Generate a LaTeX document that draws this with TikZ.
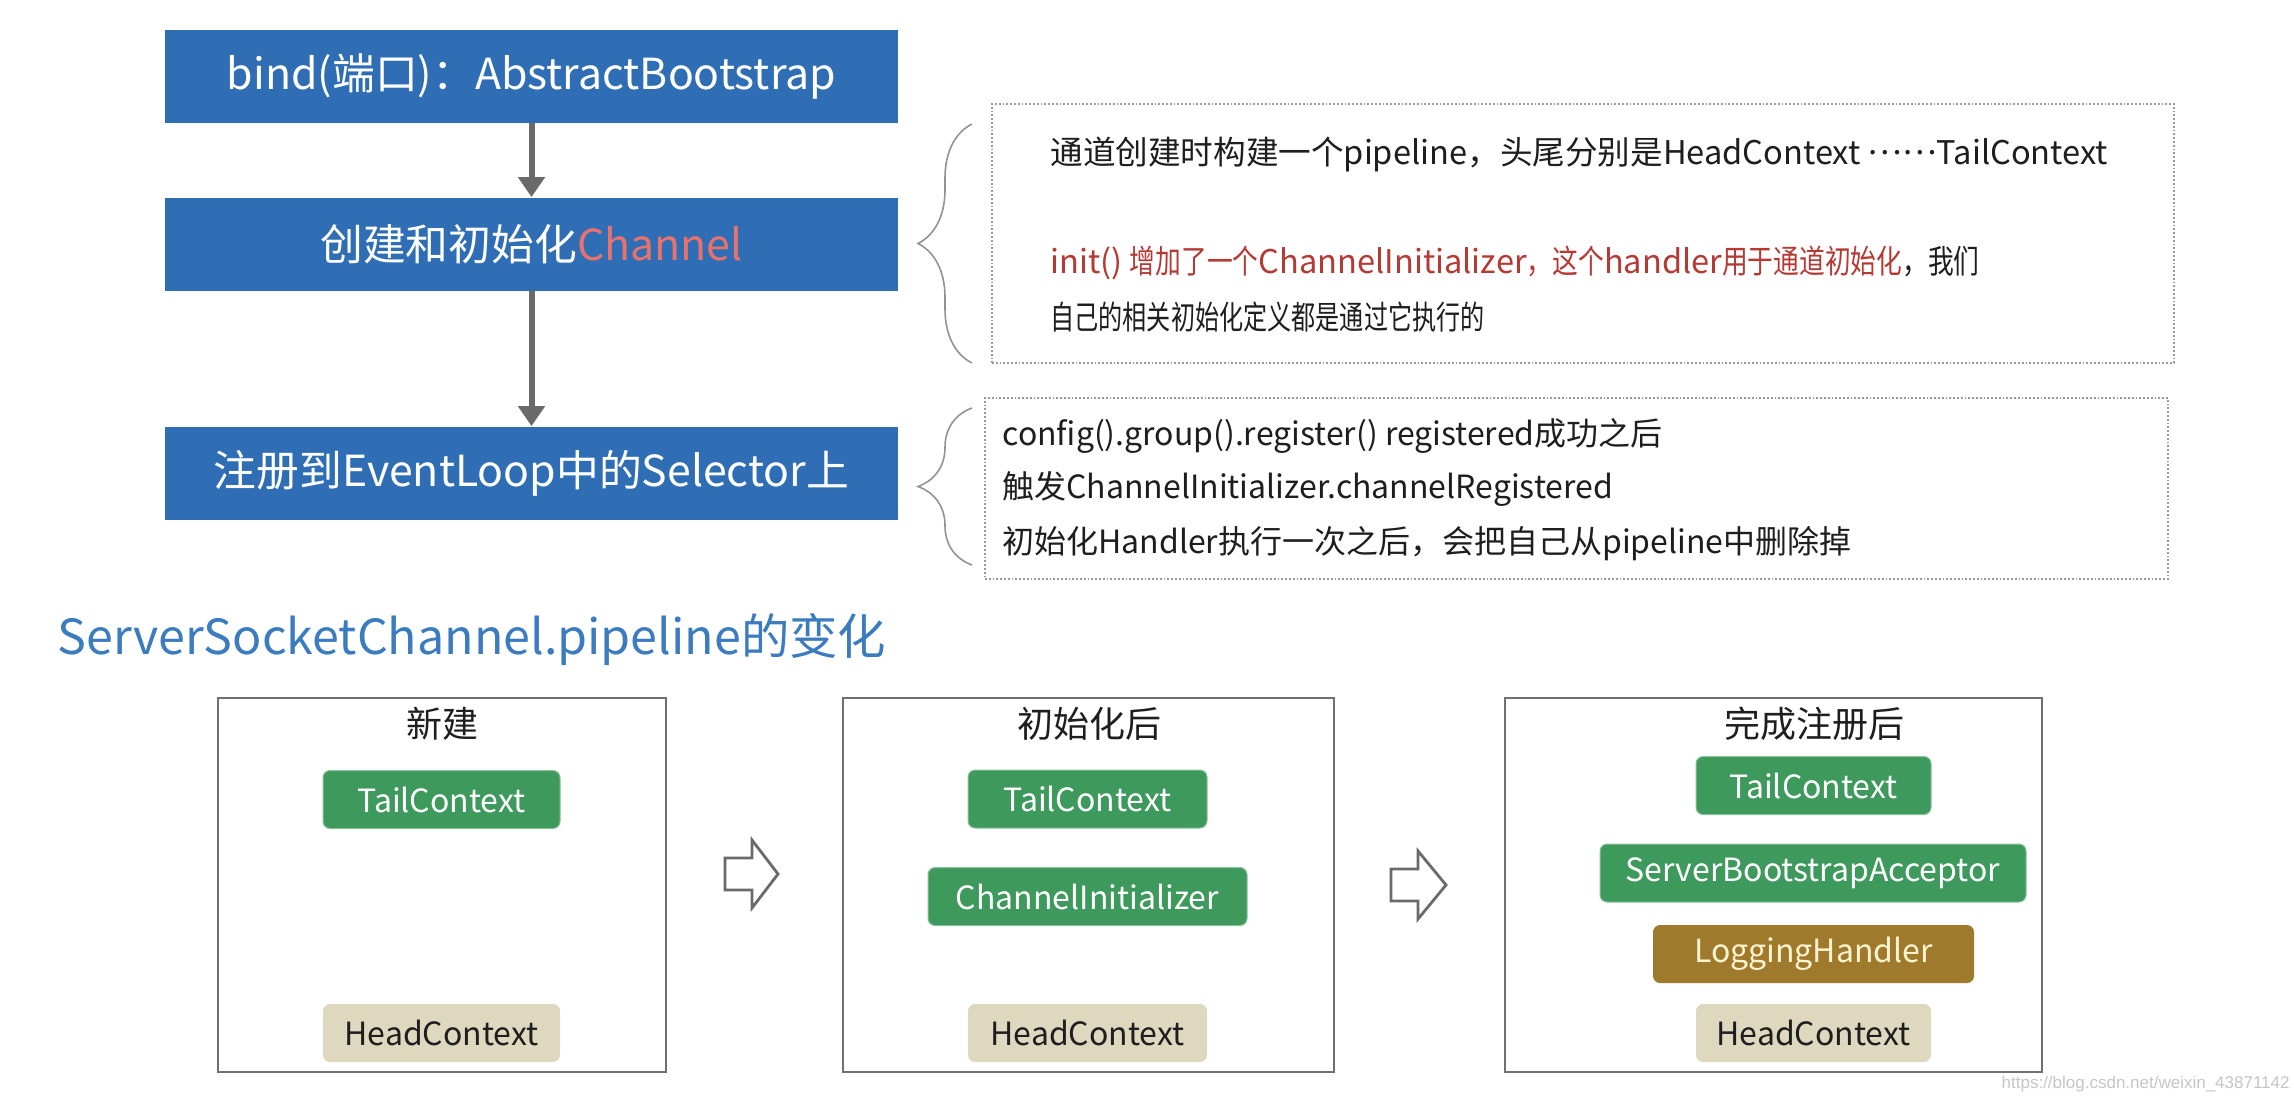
\documentclass[tikz,border=0pt]{standalone}
\usepackage{fontspec}
\setmainfont{Noto Sans CJK SC}
\newfontfamily\cjc[FakeStretch=0.74]{Noto Sans CJK SC}
\newfontfamily\cjd[FakeStretch=0.79]{Noto Sans CJK SC}
\newfontfamily\wmfont{Liberation Sans}
\usetikzlibrary{arrows.meta,decorations.pathreplacing}
\definecolor{boxblue}{HTML}{2F6DB5}
\definecolor{chred}{HTML}{E8736C}
\definecolor{darkred}{HTML}{B53A34}
\definecolor{titleblue}{HTML}{3B7BBF}
\definecolor{ctxgreen}{HTML}{3E9A5C}
\definecolor{ctxbeige}{HTML}{DDD8BE}
\definecolor{logbrown}{HTML}{A07A2C}
\definecolor{logtext}{HTML}{FFF3D0}
\definecolor{arrgray}{HTML}{6A6A6A}
\definecolor{framegray}{HTML}{707070}
\definecolor{txt}{HTML}{1E1E1E}
\begin{document}
\begin{tikzpicture}[x=0.5pt,y=-0.5pt,
  stepbox/.style={fill=boxblue,text=white,inner sep=0pt,minimum width=366.5pt,minimum height=46.5pt,font=\fontsize{21.4}{25}\selectfont},
  flowarrow/.style={draw=arrgray,line width=3pt,-{Triangle[length=10pt,width=13pt]}},
  notebox/.style={draw=gray!80,densely dotted,line width=0.9pt,inner sep=0pt},
  bracestyle/.style={draw=gray!85,line width=0.8pt,decorate,decoration={brace,amplitude=27pt}},
  noteone/.style={anchor=west,inner sep=0pt,text=txt,font=\fontsize{16.3}{19}\selectfont},
  notetwo/.style={anchor=west,inner sep=0pt,text=txt,font=\fontsize{16}{19}\selectfont},
  frame/.style={draw=framegray,line width=1.4pt,inner sep=0pt},
  frametitle/.style={inner sep=0pt,text=txt,font=\fontsize{18}{21}\selectfont},
  ctx/.style={rounded corners=3.5pt,inner sep=0pt,minimum height=29pt,font=\fontsize{16}{19}\selectfont},
  tail/.style={ctx,fill=ctxgreen,draw=ctxgreen!60!white,line width=0.5pt,text=white},
  head/.style={ctx,fill=ctxbeige,text=txt},
  logh/.style={ctx,fill=logbrown,text=logtext},
  hollow/.style={draw=arrgray,line width=1.4pt,fill=white,line join=miter}
]
\useasboundingbox[fill=white] (0,0) rectangle (2294,1098);

% flow boxes
\node[stepbox] (b1) at (531.5,76) {bind(端口)：AbstractBootstrap};
\node[stepbox] (b2) at (531.5,244) {创建和初始化\textcolor{chred}{Channel}};
\node[stepbox] (b3) at (531.5,473) {注册到EventLoop中的Selector上};
\draw[flowarrow] (b1.south) -- (b2.north);
\draw[flowarrow] (b2.south) -- (b3.north);

% note 1
\node[notebox,minimum width=591pt,minimum height=129.5pt] (n1) at (1583,233.5) {};
\coordinate (n1a) at (972,363);
\coordinate (n1b) at (972,124);
\draw[bracestyle] (n1a) -- (n1b);
\node[noteone] (t11) at (1050,154) {通道创建时构建一个pipeline，头尾分别是HeadContext \raisebox{0.28em}{……}TailContext};
\node[noteone] (t12) at (1050,263) {\textcolor{darkred}{init() {\cjd 增加了一个}ChannelInitializer{\cjd ，这个}handler{\cjd 用于通道初始化}}{\cjd ，我们}};
\node[noteone] (t13) at (1050,317) {\cjc 自己的相关初始化定义都是通过它执行的};

% note 2
\node[notebox,minimum width=591.5pt,minimum height=90.5pt] (n2) at (1576.5,488.5) {};
\coordinate (n2a) at (972,565);
\coordinate (n2b) at (972,408);
\draw[bracestyle] (n2a) -- (n2b);
\node[notetwo] (t21) at (1002,436) {config().group().register() registered成功之后};
\node[notetwo] (t22) at (1002,489) {触发ChannelInitializer.channelRegistered};
\node[notetwo] (t23) at (1002,544) {初始化Handler执行一次之后，会把自己从pipeline中删除掉};

% title
\node[anchor=west,inner sep=0pt,text=titleblue,font=\fontsize{24.2}{28}\selectfont] (title) at (57,639) {ServerSocketChannel.pipeline的变化};

% frames
\node[frame,minimum width=224pt,minimum height=187pt] (fa) at (442,885) {};
\node[frame,minimum width=245.5pt,minimum height=187pt] (fb) at (1088.5,885) {};
\node[frame,minimum width=268.5pt,minimum height=187pt] (fc) at (1773.5,885) {};
\node[frametitle] (fat) at (442,724) {新建};
\node[frametitle] (fbt) at (1089,724) {初始化后};
\node[frametitle] (fct) at (1814,724) {完成注册后};

\node[tail,minimum width=118.5pt] (atail) at (441.5,799.5) {TailContext};
\node[head,minimum width=118.5pt] (ahead) at (441.5,1033) {HeadContext};

\node[tail,minimum width=119.5pt] (btail) at (1087.5,799) {TailContext};
\node[tail,minimum width=159.5pt] (bci) at (1087.5,896.5) {ChannelInitializer};
\node[head,minimum width=119.5pt] (bhead) at (1087.5,1033) {HeadContext};

\node[tail,minimum width=117.5pt] (ctail) at (1813.5,785.5) {TailContext};
\node[tail,minimum width=213pt] (csba) at (1813,873) {ServerBootstrapAcceptor};
\node[logh,minimum width=160.5pt] (clog) at (1813.5,954) {LoggingHandler};
\node[head,minimum width=117.5pt] (chead) at (1813.5,1033) {HeadContext};

% hollow arrows
\draw[hollow] (725,858) -- (752,858) -- (752,840) -- (778,874) -- (752,908) -- (752,890) -- (725,890) -- cycle;
\draw[hollow] (1391,869) -- (1418,869) -- (1418,851) -- (1446,885) -- (1418,919) -- (1418,901) -- (1391,901) -- cycle;

% watermark
\node[anchor=east,inner sep=0pt,text=gray!45,font=\wmfont\fontsize{8.5}{10}\selectfont] (wm) at (2290,1084) {https://blog.csdn.net/weixin\_43871142};
\end{tikzpicture}
\end{document}
